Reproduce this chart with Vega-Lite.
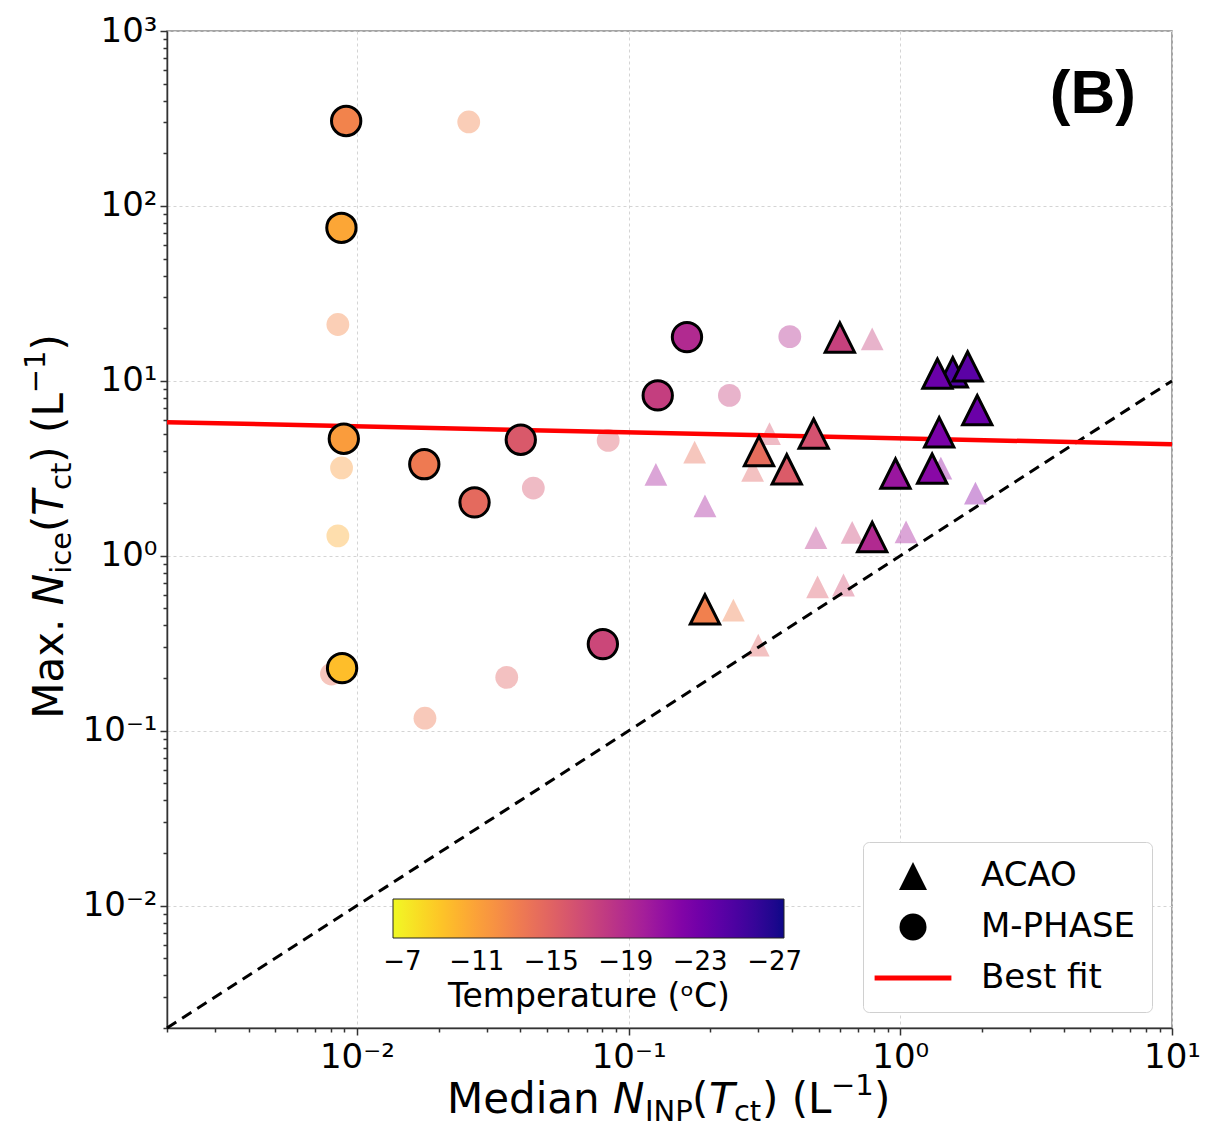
{
  "$schema": "https://vega.github.io/schema/vega-lite/v6.json",
  "width": 1005,
  "height": 997,
  "autosize": {"type": "none"},
  "padding": {"left": 167, "top": 31, "right": 34, "bottom": 100},
  "background": "white",
  "config": {
    "font": "DejaVu Sans",
    "view": {"stroke": "#888888", "strokeWidth": 1.5}
  },
  "datasets": {
    "samples": [
      {"campaign": "M-PHASE", "group": "secondary", "inp": 0.0258, "ice": 302, "temp": -12.8},
      {"campaign": "M-PHASE", "group": "secondary", "inp": 0.00851, "ice": 21.0, "temp": -12.5},
      {"campaign": "M-PHASE", "group": "secondary", "inp": 0.00878, "ice": 3.18, "temp": -11.3},
      {"campaign": "M-PHASE", "group": "secondary", "inp": 0.00851, "ice": 1.30, "temp": -10.3},
      {"campaign": "M-PHASE", "group": "secondary", "inp": 0.00806, "ice": 0.211, "temp": -14.0},
      {"campaign": "M-PHASE", "group": "secondary", "inp": 0.0178, "ice": 0.118, "temp": -13.5},
      {"campaign": "M-PHASE", "group": "secondary", "inp": 0.0356, "ice": 0.202, "temp": -15.0},
      {"campaign": "M-PHASE", "group": "secondary", "inp": 0.0446, "ice": 2.44, "temp": -16.0},
      {"campaign": "M-PHASE", "group": "secondary", "inp": 0.0841, "ice": 4.57, "temp": -15.5},
      {"campaign": "M-PHASE", "group": "secondary", "inp": 0.235, "ice": 8.26, "temp": -17.5},
      {"campaign": "M-PHASE", "group": "secondary", "inp": 0.392, "ice": 17.9, "temp": -19.0},
      {"campaign": "ACAO", "group": "secondary", "inp": 0.788, "ice": 17.4, "temp": -17.5},
      {"campaign": "ACAO", "group": "secondary", "inp": 0.330, "ice": 4.99, "temp": -16.0},
      {"campaign": "ACAO", "group": "secondary", "inp": 0.175, "ice": 3.92, "temp": -14.0},
      {"campaign": "ACAO", "group": "secondary", "inp": 0.126, "ice": 2.92, "temp": -20.0},
      {"campaign": "ACAO", "group": "secondary", "inp": 0.286, "ice": 3.08, "temp": -15.0},
      {"campaign": "ACAO", "group": "secondary", "inp": 0.191, "ice": 1.93, "temp": -20.0},
      {"campaign": "ACAO", "group": "secondary", "inp": 0.489, "ice": 1.27, "temp": -18.5},
      {"campaign": "ACAO", "group": "secondary", "inp": 0.665, "ice": 1.36, "temp": -17.0},
      {"campaign": "ACAO", "group": "secondary", "inp": 1.05, "ice": 1.37, "temp": -20.0},
      {"campaign": "ACAO", "group": "secondary", "inp": 1.41, "ice": 3.17, "temp": -21.0},
      {"campaign": "ACAO", "group": "secondary", "inp": 1.89, "ice": 2.28, "temp": -21.5},
      {"campaign": "ACAO", "group": "secondary", "inp": 0.496, "ice": 0.665, "temp": -15.5},
      {"campaign": "ACAO", "group": "secondary", "inp": 0.618, "ice": 0.681, "temp": -16.5},
      {"campaign": "ACAO", "group": "secondary", "inp": 0.243, "ice": 0.49, "temp": -13.0},
      {"campaign": "ACAO", "group": "secondary", "inp": 0.300, "ice": 0.309, "temp": -15.0},
      {"campaign": "M-PHASE", "group": "primary", "inp": 0.00913, "ice": 306, "temp": -12.8},
      {"campaign": "M-PHASE", "group": "primary", "inp": 0.00877, "ice": 75, "temp": -10.7},
      {"campaign": "M-PHASE", "group": "primary", "inp": 0.00895, "ice": 4.67, "temp": -11.3},
      {"campaign": "M-PHASE", "group": "primary", "inp": 0.00882, "ice": 0.228, "temp": -9.4},
      {"campaign": "M-PHASE", "group": "primary", "inp": 0.0177, "ice": 3.34, "temp": -13.4},
      {"campaign": "M-PHASE", "group": "primary", "inp": 0.0271, "ice": 2.02, "temp": -14.5},
      {"campaign": "M-PHASE", "group": "primary", "inp": 0.0401, "ice": 4.61, "temp": -15.7},
      {"campaign": "M-PHASE", "group": "primary", "inp": 0.0804, "ice": 0.313, "temp": -17.0},
      {"campaign": "M-PHASE", "group": "primary", "inp": 0.128, "ice": 8.26, "temp": -17.6},
      {"campaign": "M-PHASE", "group": "primary", "inp": 0.164, "ice": 17.8, "temp": -19.1},
      {"campaign": "ACAO", "group": "primary", "inp": 0.599, "ice": 17.7, "temp": -17.4},
      {"campaign": "ACAO", "group": "primary", "inp": 1.56, "ice": 11.2, "temp": -24.8},
      {"campaign": "ACAO", "group": "primary", "inp": 1.37, "ice": 11.0, "temp": -23.3},
      {"campaign": "ACAO", "group": "primary", "inp": 1.77, "ice": 12.1, "temp": -24.1},
      {"campaign": "ACAO", "group": "primary", "inp": 1.92, "ice": 6.8, "temp": -23.3},
      {"campaign": "ACAO", "group": "primary", "inp": 1.39, "ice": 5.08, "temp": -22.5},
      {"campaign": "ACAO", "group": "primary", "inp": 1.31, "ice": 3.15, "temp": -21.6},
      {"campaign": "ACAO", "group": "primary", "inp": 0.96, "ice": 2.95, "temp": -20.6},
      {"campaign": "ACAO", "group": "primary", "inp": 0.788, "ice": 1.28, "temp": -19.1},
      {"campaign": "ACAO", "group": "primary", "inp": 0.48, "ice": 4.99, "temp": -16.2},
      {"campaign": "ACAO", "group": "primary", "inp": 0.302, "ice": 3.97, "temp": -14.3},
      {"campaign": "ACAO", "group": "primary", "inp": 0.382, "ice": 3.12, "temp": -15.5},
      {"campaign": "ACAO", "group": "primary", "inp": 0.191, "ice": 0.494, "temp": -13.0}
    ],
    "fit": [
      {"inp": 0.002, "ice": 5.81},
      {"inp": 10, "ice": 4.34}
    ],
    "oneToOne": [
      {"inp": 0.002, "ice": 0.002},
      {"inp": 10, "ice": 10}
    ]
  },
  "layer": [
    {
      "data": {"name": "samples"},
      "transform": [{"filter": "datum.group === 'secondary'"}],
      "mark": {"type": "point", "filled": true, "opacity": 0.4, "strokeWidth": 0, "size": 520},
      "encoding": {
        "x": {
          "field": "inp", "type": "quantitative",
          "scale": {"type": "log", "domain": [0.002, 10], "nice": false},
          "axis": {
            "title": null,
            "values": [0.002, 0.003, 0.004, 0.005, 0.006, 0.007, 0.008, 0.009, 0.01, 0.02, 0.03, 0.04, 0.05, 0.06, 0.07, 0.08, 0.09, 0.1, 0.2, 0.3, 0.4, 0.5, 0.6, 0.7, 0.8, 0.9, 1, 2, 3, 4, 5, 6, 7, 8, 9, 10],
            "labelExpr": "abs(log(datum.value)/LN10 - round(log(datum.value)/LN10)) < 0.001 ? ['10⁻²','10⁻¹','10⁰','10¹','10²','10³'][round(log(datum.value)/LN10) + 2] : ''",
            "labelFont": "DejaVu Sans", "labelFontSize": 34, "labelColor": "#000000",
            "labelPadding": 5, "labelOverlap": false, "labelFlush": false,
            "tickSize": {"condition": {"test": "abs(log(datum.value)/LN10 - round(log(datum.value)/LN10)) < 0.001", "value": 7}, "value": 4},
            "tickColor": "#333333", "tickWidth": 1.5,
            "domainColor": "#333333", "domainWidth": 1.5,
            "grid": true, "gridColor": "#d4d4d4", "gridDash": [3, 3], "gridWidth": 1,
            "gridOpacity": {"condition": {"test": "abs(log(datum.value)/LN10 - round(log(datum.value)/LN10)) < 0.001", "value": 1}, "value": 0}
          }
        },
        "y": {
          "field": "ice", "type": "quantitative",
          "scale": {"type": "log", "domain": [0.002, 1000], "nice": false},
          "axis": {
            "title": null,
            "values": [0.002, 0.003, 0.004, 0.005, 0.006, 0.007, 0.008, 0.009, 0.01, 0.02, 0.03, 0.04, 0.05, 0.06, 0.07, 0.08, 0.09, 0.1, 0.2, 0.3, 0.4, 0.5, 0.6, 0.7, 0.8, 0.9, 1, 2, 3, 4, 5, 6, 7, 8, 9, 10, 20, 30, 40, 50, 60, 70, 80, 90, 100, 200, 300, 400, 500, 600, 700, 800, 900, 1000],
            "labelExpr": "abs(log(datum.value)/LN10 - round(log(datum.value)/LN10)) < 0.001 ? ['10⁻²','10⁻¹','10⁰','10¹','10²','10³'][round(log(datum.value)/LN10) + 2] : ''",
            "labelFont": "DejaVu Sans", "labelFontSize": 34, "labelColor": "#000000",
            "labelPadding": 3, "labelOverlap": false, "labelFlush": false,
            "tickSize": {"condition": {"test": "abs(log(datum.value)/LN10 - round(log(datum.value)/LN10)) < 0.001", "value": 7}, "value": 4},
            "tickColor": "#333333", "tickWidth": 1.5,
            "domainColor": "#333333", "domainWidth": 1.5,
            "grid": true, "gridColor": "#d4d4d4", "gridDash": [3, 3], "gridWidth": 1,
            "gridOpacity": {"condition": {"test": "abs(log(datum.value)/LN10 - round(log(datum.value)/LN10)) < 0.001", "value": 1}, "value": 0}
          }
        },
        "color": {
          "field": "temp", "type": "quantitative",
          "scale": {"domain": [-6.5, -27.5], "scheme": {"name": "plasma", "extent": [1, 0]}, "nice": false, "zero": false},
          "legend": {
            "orient": "none", "legendX": 226, "legendY": 868, "direction": "horizontal",
            "gradientLength": 391, "gradientThickness": 39,
            "gradientStrokeColor": "#222222", "gradientStrokeWidth": 1,
            "values": [-7, -11, -15, -19, -23, -27],
            "labelExpr": "'−' + abs(datum.value)",
            "labelFont": "DejaVu Sans", "labelFontSize": 26, "labelColor": "#000000", "labelOffset": 11, "labelOverlap": false,
            "title": "Temperature (ᵒC)", "titleOrient": "bottom", "titleAnchor": "middle", "titleLimit": 600,
            "titleFont": "DejaVu Sans", "titleFontSize": 33, "titleFontWeight": "normal", "titleColor": "#000000", "titlePadding": 6,
            "padding": 0,
            "encoding": {
              "gradient": {"opacity": {"value": 1}}
            }
          }
        },
        "shape": {
          "field": "campaign", "type": "nominal",
          "scale": {"domain": ["ACAO", "M-PHASE", "Best fit"], "range": ["M0,-1L-1,1L1,1Z", "circle", "M-1.6,0H1.6"]},
          "legend": {
            "orient": "none", "legendX": 696, "legendY": 811, "title": null,
            "padding": 17, "fillColor": "#ffffff", "strokeColor": "#d0d0d0", "cornerRadius": 6,
            "symbolSize": 2304, "symbolOffset": 16, "rowPadding": 17, "symbolOpacity": 1,
            "labelFont": "DejaVu Sans", "labelFontSize": 34, "labelColor": "#000000", "labelOffset": 51,
            "encoding": {
              "symbols": {
                "fill": {"value": {"expr": "datum.value === 'Best fit' ? 'transparent' : '#000000'"}},
                "stroke": {"value": {"expr": "datum.value === 'Best fit' ? '#ff0000' : '#000000'"}},
                "strokeWidth": {"value": {"expr": "datum.value === 'Best fit' ? 5 : 0"}},
                "size": {"value": {"expr": "datum.value === 'Best fit' ? 2304 : (datum.value === 'M-PHASE' ? 729 : 784)"}},
                "opacity": {"value": 1}
              }
            }
          }
        }
      }
    },
    {
      "data": {"name": "oneToOne"},
      "mark": {"type": "line", "color": "#000000", "strokeWidth": 3, "strokeDash": [11, 7]},
      "encoding": {
        "x": {"field": "inp", "type": "quantitative", "scale": {"type": "log", "domain": [0.002, 10], "nice": false}},
        "y": {"field": "ice", "type": "quantitative", "scale": {"type": "log", "domain": [0.002, 1000], "nice": false}}
      }
    },
    {
      "data": {"name": "fit"},
      "mark": {"type": "line", "color": "#ff0000", "strokeWidth": 4.5},
      "encoding": {
        "x": {"field": "inp", "type": "quantitative", "scale": {"type": "log", "domain": [0.002, 10], "nice": false}},
        "y": {"field": "ice", "type": "quantitative", "scale": {"type": "log", "domain": [0.002, 1000], "nice": false}}
      }
    },
    {
      "data": {"name": "samples"},
      "transform": [{"filter": "datum.group === 'primary'"}],
      "mark": {"type": "point", "filled": true, "opacity": 1, "stroke": "#000000", "strokeWidth": 3, "size": 860},
      "encoding": {
        "x": {"field": "inp", "type": "quantitative", "scale": {"type": "log", "domain": [0.002, 10], "nice": false}},
        "y": {"field": "ice", "type": "quantitative", "scale": {"type": "log", "domain": [0.002, 1000], "nice": false}},
        "color": {"field": "temp", "type": "quantitative", "scale": {"domain": [-6.5, -27.5], "scheme": {"name": "plasma", "extent": [1, 0]}, "nice": false, "zero": false}},
        "shape": {"field": "campaign", "type": "nominal", "scale": {"domain": ["ACAO", "M-PHASE", "Best fit"], "range": ["M0,-1L-1,1L1,1Z", "circle", "M-1.6,0H1.6"]}}
      }
    },
    {
      "data": {"values": [{}]},
      "mark": {"type": "text", "text": "(B)", "font": "Liberation Sans", "fontWeight": "bold", "fontSize": 62, "align": "center", "baseline": "alphabetic", "color": "#000000"},
      "encoding": {
        "x": {"datum": 5.11, "type": "quantitative", "scale": {"type": "log", "domain": [0.002, 10], "nice": false}},
        "y": {"datum": 340, "type": "quantitative", "scale": {"type": "log", "domain": [0.002, 1000], "nice": false}}
      }
    },
    {
      "data": {"values": [{}]},
      "encoding": {
        "x": {"datum": 0.01, "type": "quantitative", "scale": {"type": "log", "domain": [0.002, 10], "nice": false}},
        "y": {"datum": 0.002, "type": "quantitative", "scale": {"type": "log", "domain": [0.002, 1000], "nice": false}}
      },
      "layer": [
        {"mark": {"type": "text", "text": "Median ", "fontSize": 42, "align": "left", "baseline": "alphabetic", "dx": 90, "dy": 85, "color": "#000000"}},
        {"mark": {"type": "text", "text": "N", "fontSize": 42, "fontStyle": "italic", "align": "left", "baseline": "alphabetic", "dx": 256, "dy": 85, "color": "#000000"}},
        {"mark": {"type": "text", "text": "INP", "fontSize": 29, "align": "left", "baseline": "alphabetic", "dx": 288, "dy": 93, "color": "#000000"}},
        {"mark": {"type": "text", "text": "(", "fontSize": 42, "align": "left", "baseline": "alphabetic", "dx": 335, "dy": 85, "color": "#000000"}},
        {"mark": {"type": "text", "text": "T", "fontSize": 42, "fontStyle": "italic", "align": "left", "baseline": "alphabetic", "dx": 352, "dy": 85, "color": "#000000"}},
        {"mark": {"type": "text", "text": "ct", "fontSize": 29, "align": "left", "baseline": "alphabetic", "dx": 377, "dy": 93, "color": "#000000"}},
        {"mark": {"type": "text", "text": ") (L", "fontSize": 42, "align": "left", "baseline": "alphabetic", "dx": 405, "dy": 85, "color": "#000000"}},
        {"mark": {"type": "text", "text": "−1", "fontSize": 29, "align": "left", "baseline": "alphabetic", "dx": 474, "dy": 67, "color": "#000000"}},
        {"mark": {"type": "text", "text": ")", "fontSize": 42, "align": "left", "baseline": "alphabetic", "dx": 517, "dy": 85, "color": "#000000"}}
      ]
    },
    {
      "data": {"values": [{}]},
      "encoding": {
        "x": {"datum": 0.002, "type": "quantitative", "scale": {"type": "log", "domain": [0.002, 10], "nice": false}},
        "y": {"datum": 0.1, "type": "quantitative", "scale": {"type": "log", "domain": [0.002, 1000], "nice": false}}
      },
      "layer": [
        {"mark": {"type": "text", "text": "Max. ", "fontSize": 42, "angle": 270, "align": "left", "baseline": "alphabetic", "dx": 12, "dy": -104, "color": "#000000"}},
        {"mark": {"type": "text", "text": "N", "fontSize": 42, "fontStyle": "italic", "angle": 270, "align": "left", "baseline": "alphabetic", "dx": 125.5, "dy": -104, "color": "#000000"}},
        {"mark": {"type": "text", "text": "ice", "fontSize": 29, "angle": 270, "align": "left", "baseline": "alphabetic", "dx": 157, "dy": -96, "color": "#000000"}},
        {"mark": {"type": "text", "text": "(", "fontSize": 42, "angle": 270, "align": "left", "baseline": "alphabetic", "dx": 198.7, "dy": -104, "color": "#000000"}},
        {"mark": {"type": "text", "text": "T", "fontSize": 42, "fontStyle": "italic", "angle": 270, "align": "left", "baseline": "alphabetic", "dx": 215.1, "dy": -104, "color": "#000000"}},
        {"mark": {"type": "text", "text": "ct", "fontSize": 29, "angle": 270, "align": "left", "baseline": "alphabetic", "dx": 240.8, "dy": -96, "color": "#000000"}},
        {"mark": {"type": "text", "text": ") (L", "fontSize": 42, "angle": 270, "align": "left", "baseline": "alphabetic", "dx": 268.1, "dy": -104, "color": "#000000"}},
        {"mark": {"type": "text", "text": "−1", "fontSize": 29, "angle": 270, "align": "left", "baseline": "alphabetic", "dx": 337.6, "dy": -122, "color": "#000000"}},
        {"mark": {"type": "text", "text": ")", "fontSize": 42, "angle": 270, "align": "left", "baseline": "alphabetic", "dx": 380.4, "dy": -104, "color": "#000000"}}
      ]
    }
  ]
}
